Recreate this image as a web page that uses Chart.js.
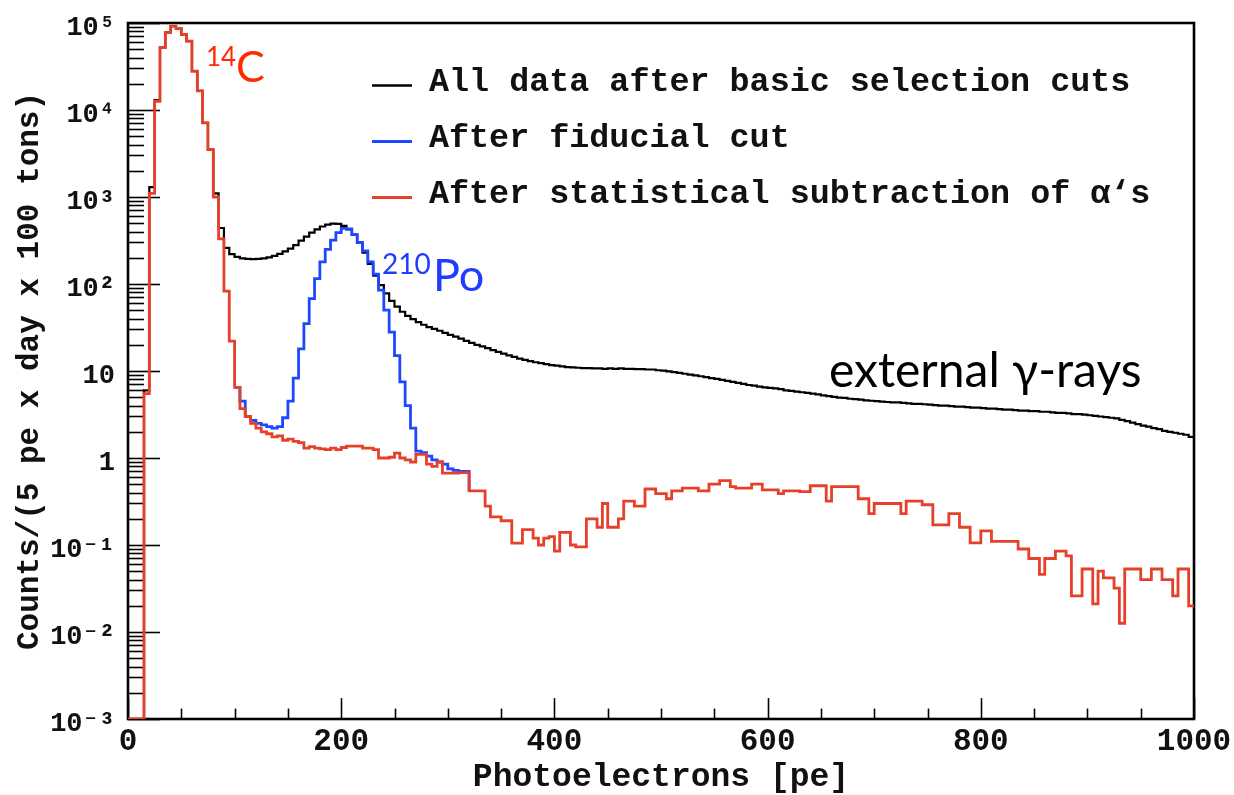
<!DOCTYPE html>
<html><head><meta charset="utf-8">
<script src="https://cdn.jsdelivr.net/npm/chart.js@4.4.1/dist/chart.umd.min.js"></script>
<style>html,body{margin:0;padding:0;background:#fff;}canvas{display:block;}</style>
</head><body>
<canvas id="c" width="1234" height="795"></canvas>
<script>
// ---------- data ----------
const BIN_WIDTH = 5;            // pe per bin
const X_MIN = 0, X_MAX = 1000;
const X_TICK_STEP = 200;
const Y_MIN = 1e-3, Y_MAX = 1e5;
const Y_TICKS = [1e-3, 1e-2, 1e-1, 1, 10, 1e2, 1e3, 1e4, 1e5];
const Y_TICK_LABELS = ['10\u207B\u00B3', '10\u207B\u00B2', '10\u207B\u00B9', '1', '10', '10\u00B2', '10\u00B3', '10\u2074', '10\u2075'];

// All data after basic selection cuts (bins from 0 pe)
const allData = [
  0.001, 0.001, 0.001, 6, 1300, 13000, 52000, 78000, 92000, 86000,
  74000, 62000, 28000, 16600, 7100, 3500, 1100, 440, 260, 220,
  205, 197, 194, 193, 194, 197, 202, 210, 222, 237,
  255, 280, 315, 350, 390, 425, 458, 482, 495, 490,
  465, 425, 370, 300, 230, 170, 125, 97, 78, 64,
  55, 48, 43, 39.5, 36.5, 34, 32, 30.5, 29, 27.5,
  26, 24.8, 23.5, 22.2, 21, 20, 19.2, 18.3, 17.4, 16.6,
  15.8, 15.1, 14.5, 13.9, 13.4, 13.0, 12.6, 12.3, 12.0, 11.7,
  11.5, 11.3, 11.1, 11.0, 10.9, 10.8, 10.8, 10.7, 10.7, 10.6,
  10.7, 10.6, 10.7, 10.6, 10.6, 10.5, 10.5, 10.4, 10.4, 10.2,
  10.1, 9.9, 9.7, 9.5, 9.3, 9.1, 8.9, 8.7, 8.5, 8.3,
  8.1, 7.9, 7.7, 7.5, 7.3, 7.1, 6.9, 6.8, 6.6, 6.5,
  6.4, 6.3, 6.2, 6.0, 5.9, 5.8, 5.7, 5.6, 5.5, 5.4,
  5.25, 5.15, 5.05, 4.95, 4.9, 4.8, 4.75, 4.7, 4.6, 4.55,
  4.5, 4.45, 4.4, 4.35, 4.35, 4.3, 4.25, 4.2, 4.2, 4.15,
  4.1, 4.05, 4.0, 4.0, 3.95, 3.9, 3.9, 3.85, 3.8, 3.8,
  3.75, 3.7, 3.7, 3.65, 3.6, 3.6, 3.55, 3.5, 3.5, 3.45,
  3.45, 3.4, 3.4, 3.35, 3.3, 3.3, 3.25, 3.2, 3.2, 3.15,
  3.1, 3.05, 3.0, 2.95, 2.9, 2.85, 2.75, 2.65, 2.55, 2.45,
  2.35, 2.3, 2.2, 2.15, 2.05, 2.0, 1.95, 1.9, 1.85, 1.75
];

// After fiducial cut (bins from 100 pe to 315 pe; below red elsewhere)
const FIDUCIAL_START = 100;
const fiducialData = [
  6.5, 4.5, 3.0, 2.7, 2.5, 2.4, 2.3, 2.2, 2.3, 2.9,
  4.5, 8.3, 18, 35, 68, 115, 180, 250, 320, 390,
  435, 430, 370, 300, 240, 180, 130, 85, 50, 28,
  15, 7.5, 4.0, 2.2, 1.2, 1.15, 1.05, 0.95, 0.9, 0.85,
  0.75, 0.72, 0.7, 0.7
];
const FIDUCIAL_END_VALUE = 0.42;

// After statistical subtraction of alphas (bins from 0 pe)
const alphaSubData = [
  0.001, 0.001, 0.001, 5.5, 1100, 12600, 52000, 78000, 92000, 86000,
  74000, 62000, 28000, 16600, 7100, 3500, 1000, 330, 83, 22,
  6.5, 3.7, 3.0, 2.5, 2.2, 2.0, 1.9, 1.75, 1.8, 1.6,
  1.65, 1.55, 1.5, 1.3, 1.35, 1.3, 1.27, 1.25, 1.3, 1.25,
  1.32, 1.37, 1.37, 1.37, 1.3, 1.3, 1.25, 1.0, 1.0, 1.02,
  1.14, 1.0, 0.95, 0.9, 1.1, 1.1, 0.85, 0.8, 0.9, 0.67,
  0.67, 0.67, 0.68, 0.68, 0.42, 0.42, 0.42, 0.28, 0.21, 0.21,
  0.19, 0.19, 0.105, 0.105, 0.15, 0.15, 0.12, 0.10, 0.12, 0.125,
  0.085, 0.14, 0.14, 0.1, 0.095, 0.095, 0.2, 0.2, 0.16, 0.30,
  0.16, 0.16, 0.2, 0.32, 0.32, 0.28, 0.28, 0.44, 0.44, 0.39,
  0.39, 0.34, 0.42, 0.42, 0.45, 0.45, 0.45, 0.42, 0.42, 0.5,
  0.5, 0.55, 0.55, 0.47, 0.45, 0.45, 0.45, 0.5, 0.5, 0.43,
  0.43, 0.43, 0.39, 0.42, 0.42, 0.42, 0.41, 0.41, 0.48, 0.48,
  0.48, 0.32, 0.47, 0.47, 0.47, 0.47, 0.47, 0.34, 0.34, 0.23,
  0.30, 0.30, 0.30, 0.30, 0.30, 0.23, 0.32, 0.32, 0.32, 0.29,
  0.29, 0.17, 0.17, 0.17, 0.23, 0.23, 0.16, 0.16, 0.106, 0.106,
  0.145, 0.145, 0.11, 0.11, 0.11, 0.11, 0.11, 0.09, 0.09, 0.07,
  0.07, 0.046, 0.07, 0.07, 0.085, 0.085, 0.075, 0.026, 0.026, 0.053,
  0.053, 0.021, 0.05, 0.042, 0.042, 0.032, 0.0126, 0.053, 0.053, 0.053,
  0.04, 0.04, 0.053, 0.053, 0.04, 0.04, 0.026, 0.053, 0.053, 0.02
];

const LEGEND_LABELS = [
  'All data after basic selection cuts',
  'After fiducial cut',
  'After statistical subtraction of \u03B1\u2018s'
];
const X_TITLE = 'Photoelectrons [pe]';
const Y_TITLE = 'Counts/(5 pe x day x 100 tons)';

// ---------- styles ----------
const COL_BLACK = '#000000';
const COL_BLUE = '#1f47ff';
const COL_RED = '#e6402b';
const MONO = '"Liberation Mono", "DejaVu Sans Mono", monospace';
const SANS = 'Lato, "Open Sans", "Liberation Sans", sans-serif';

function stepPoints(values, start, endValue) {
  const pts = values.map((v, i) => ({x: start + i * BIN_WIDTH, y: v}));
  pts.push({x: start + values.length * BIN_WIDTH, y: endValue === undefined ? values[values.length - 1] : endValue});
  return pts;
}

const framePlugin = {
  id: 'frame',
  beforeDatasetsDraw(chart) {
    const {ctx, chartArea: a, scales: {x, y}} = chart;
    ctx.save();
    ctx.strokeStyle = '#000';
    // y tick marks (inside, left)
    ctx.lineWidth = 1.6;
    const yl = (a.right - a.left) * 0.03;
    for (let e = -3; e <= 5; e++) {
      for (let k = 1; k <= 9; k++) {
        const v = k * Math.pow(10, e);
        if (v > Y_MAX * 1.0001) break;
        const py = Math.round(y.getPixelForValue(v)) + 0.5;
        const len = k === 1 ? yl : yl / 2;
        ctx.beginPath(); ctx.moveTo(a.left, py); ctx.lineTo(a.left + len, py); ctx.stroke();
      }
    }
    // x tick marks (inside, bottom)
    const xl = (a.bottom - a.top) * 0.03;
    for (let v = X_MIN; v <= X_MAX; v += X_TICK_STEP / 4) {
      const px = Math.round(x.getPixelForValue(v)) + 0.5;
      const len = (v % X_TICK_STEP === 0) ? xl : xl / 2;
      ctx.beginPath(); ctx.moveTo(px, a.bottom); ctx.lineTo(px, a.bottom - len); ctx.stroke();
    }
    ctx.lineWidth = 2.6;
    ctx.strokeRect(a.left, a.top, a.right - a.left, a.bottom - a.top);
    ctx.restore();
  },
  afterDraw(chart) {
    const {ctx} = chart;
    ctx.save();
    // legend
    const cols = [COL_BLACK, COL_BLUE, COL_RED];
    const rows = [83, 139, 195];
    ctx.font = 'bold 33.4px ' + MONO;
    ctx.textBaseline = 'middle';
    ctx.textAlign = 'left';
    for (let i = 0; i < 3; i++) {
      ctx.strokeStyle = cols[i];
      ctx.lineWidth = i === 0 ? 2.4 : 3;
      ctx.beginPath(); ctx.moveTo(372, rows[i] + 2.5); ctx.lineTo(412, rows[i] + 2.5); ctx.stroke();
      ctx.fillStyle = '#111';
      ctx.fillText(LEGEND_LABELS[i], 429, rows[i]);
    }
    // annotations
    ctx.textBaseline = 'alphabetic';
    ctx.fillStyle = '#ff2a00';
    ctx.font = '26px ' + SANS; ctx.fillText('14', 206, 66);
    ctx.font = '43px ' + SANS; ctx.fillText('C', 236, 82);
    ctx.fillStyle = '#1f3cff';
    ctx.font = '28px ' + SANS; ctx.fillText('210', 382, 274);
    ctx.font = '45px ' + SANS; ctx.fillText('Po', 433, 291);
    ctx.fillStyle = '#000';
    ctx.font = '48px ' + SANS; ctx.fillText('external \u03B3-rays', 829, 387);
    ctx.restore();
  }
};

new Chart(document.getElementById('c'), {
  type: 'line',
  data: {
    datasets: [
      {label: LEGEND_LABELS[2], data: stepPoints(alphaSubData, X_MIN), borderColor: COL_RED, borderWidth: 2.8, order: 0},
      {label: LEGEND_LABELS[1], data: stepPoints(fiducialData, FIDUCIAL_START, FIDUCIAL_END_VALUE), borderColor: COL_BLUE, borderWidth: 2.8, order: 1},
      {label: LEGEND_LABELS[0], data: stepPoints(allData, X_MIN), borderColor: COL_BLACK, borderWidth: 2.2, order: 2}
    ].map(d => Object.assign(d, {stepped: true, pointRadius: 0, fill: false, tension: 0, borderJoinStyle: 'miter'}))
  },
  options: {
    responsive: false,
    animation: false,
    events: [],
    layout: {padding: {top: 23, right: 40, left: 0, bottom: 0}},
    plugins: {legend: {display: false}, tooltip: {enabled: false}},
    scales: {
      x: {
        type: 'linear', min: X_MIN, max: X_MAX,
        grid: {display: false, drawTicks: false},
        border: {display: false},
        ticks: {stepSize: X_TICK_STEP, padding: 5, color: '#111', font: {family: MONO, size: 31, weight: 'bold', lineHeight: 1.2}, maxRotation: 0, autoSkip: false,
          callback(v) { return String(v); }},
        title: {display: true, text: X_TITLE, color: '#111', font: {family: MONO, size: 33, weight: 'bold', lineHeight: 1}, padding: {top: 0, bottom: 1}},
        afterFit(s) { s.height = 76; s.paddingLeft = 0; s.paddingRight = 0; }
      },
      y: {
        type: 'logarithmic', min: Y_MIN, max: Y_MAX,
        afterBuildTicks(s) { s.ticks = Y_TICKS.map(v => ({value: v})); },
        grid: {display: false, drawTicks: false},
        border: {display: false},
        ticks: {
          autoSkip: false, padding: 13, labelOffset: 5, color: '#111',
          font: {family: MONO, size: 27, weight: 'bold'},
          callback(v) { const i = Y_TICKS.findIndex(t => Math.abs(Math.log10(t) - Math.log10(v)) < 1e-6); return i >= 0 ? Y_TICK_LABELS[i] : ''; }
        },
        title: {display: true, text: Y_TITLE, color: '#111', font: {family: MONO, size: 31, weight: 'bold', lineHeight: 1}, padding: {top: 15, bottom: 0}},
        afterFit(s) { s.width = 128; s.paddingTop = 0; s.paddingBottom = 0; }
      }
    }
  },
  plugins: [framePlugin]
});
</script>
</body></html>
